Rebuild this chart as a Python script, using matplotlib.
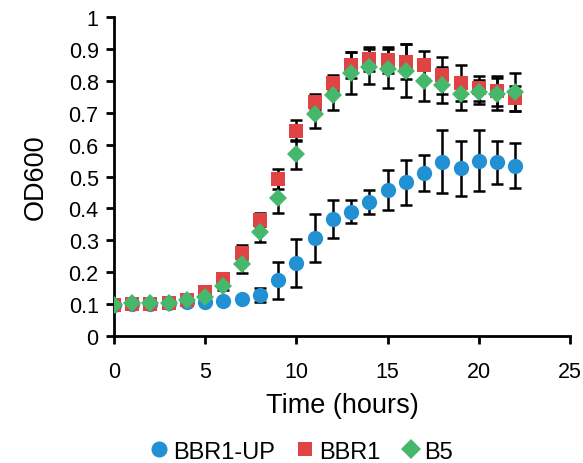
import matplotlib.pyplot as plt
import numpy as np
from matplotlib.lines import Line2D
from matplotlib.ticker import MultipleLocator, FuncFormatter

plt.rcParams['font.family'] = ['Liberation Sans', 'DejaVu Sans']

# time points (hours)
hours = list(range(0, 23))

# BBR1-UP
up_mean = [0.097, 0.100, 0.100, 0.103, 0.106, 0.107, 0.110, 0.116, 0.130, 0.175, 0.230, 0.306,
           0.366, 0.390, 0.420, 0.457, 0.482, 0.510, 0.547, 0.526, 0.550, 0.544, 0.534]
up_err = [0.005, 0.005, 0.005, 0.005, 0.005, 0.005, 0.006, 0.008, 0.022, 0.058, 0.075, 0.075,
          0.060, 0.036, 0.038, 0.063, 0.070, 0.057, 0.100, 0.086, 0.095, 0.066, 0.070]

# BBR1
bbr1_mean = [0.097, 0.100, 0.100, 0.105, 0.112, 0.137, 0.178, 0.260, 0.365, 0.492, 0.644, 0.735,
             0.792, 0.850, 0.868, 0.866, 0.860, 0.850, 0.818, 0.794, 0.776, 0.768, 0.745]
bbr1_err = [0.005, 0.005, 0.005, 0.005, 0.006, 0.008, 0.012, 0.025, 0.020, 0.030, 0.033, 0.025,
            0.025, 0.040, 0.037, 0.040, 0.055, 0.043, 0.058, 0.056, 0.040, 0.048, 0.040]

# B5
b5_mean = [0.097, 0.102, 0.102, 0.105, 0.112, 0.123, 0.157, 0.226, 0.325, 0.432, 0.570, 0.696,
           0.757, 0.824, 0.844, 0.838, 0.832, 0.800, 0.786, 0.759, 0.764, 0.759, 0.764]
b5_err = [0.005, 0.005, 0.005, 0.005, 0.006, 0.008, 0.012, 0.030, 0.030, 0.047, 0.045, 0.045,
          0.050, 0.065, 0.055, 0.062, 0.082, 0.062, 0.056, 0.049, 0.037, 0.049, 0.060]

series = [
    ('BBR1-UP', up_mean, up_err, 'o', '#2191d3', 11),
    ('BBR1', bbr1_mean, bbr1_err, 's', '#e04343', 10),
    ('B5', b5_mean, b5_err, 'D', '#45b86c', 9.5),
]

fig = plt.figure(figsize=(5.83, 4.64), dpi=100)
ax = fig.add_axes([0.1955, 0.2737, 0.7822, 0.6875])

for i, (name, m, e, mk, col, ms) in enumerate(series):
    ax.errorbar(hours, m, yerr=e, fmt='none', ecolor='black', elinewidth=1.8,
                capsize=4, capthick=1.8, zorder=2 + i)
for i, (name, m, e, mk, col, ms) in enumerate(series):
    ax.plot(hours, m, linestyle='none', marker=mk, color=col, markersize=ms,
            markeredgewidth=0, zorder=5 + i)

ax.set_xlim(0, 25)
ax.set_ylim(0, 1)
ax.xaxis.set_major_locator(MultipleLocator(5))
ax.yaxis.set_major_locator(MultipleLocator(0.1))
ax.yaxis.set_major_formatter(FuncFormatter(lambda v, p: ('%.1f' % v).rstrip('0').rstrip('.') if v else '0'))

for s in ['top', 'right']:
    ax.spines[s].set_visible(False)
for s in ['left', 'bottom']:
    ax.spines[s].set_linewidth(2)
ax.tick_params(axis='both', direction='out', length=6, width=2, labelsize=15.5, pad=5)
ax.tick_params(axis='x', pad=12)

ax.set_xlabel('Time (hours)', fontsize=19.5, labelpad=7)
ax.set_ylabel('OD600', fontsize=19.5, labelpad=14)

handles = [Line2D([], [], linestyle='none', marker=mk, color=col, markersize=ms * 1.05,
                  markeredgewidth=0, label=name)
           for name, m, e, mk, col, ms in series]
fig.legend(handles=handles, loc='lower center', bbox_to_anchor=(0.518, -0.045), ncol=3,
           frameon=False, fontsize=17, handletextpad=0.22, columnspacing=0.95, handlelength=0.7)

fig.savefig('out.png', dpi=100)
